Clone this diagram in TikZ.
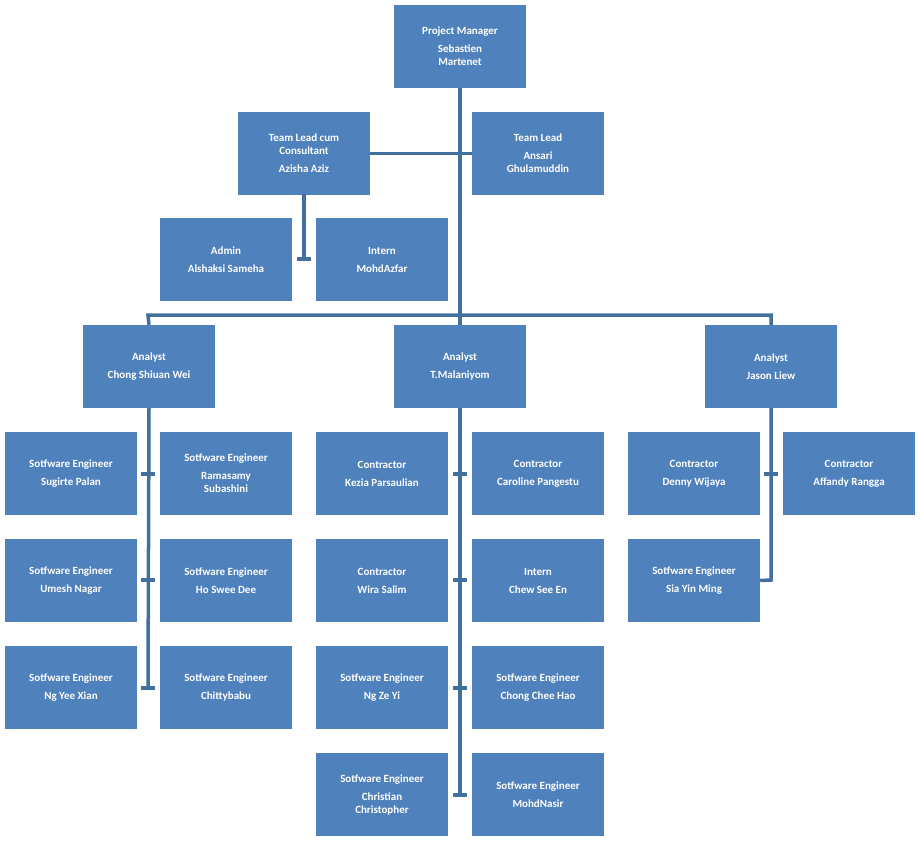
\documentclass[tikz,border=0pt]{standalone}
\usepackage{fontspec}
\setmainfont{Carlito}
\definecolor{boxc}{HTML}{4F81BD}
\definecolor{linec}{HTML}{41709F}
\begin{document}
\begin{tikzpicture}[x=1pt,y=-1pt,
  bx/.style={fill=boxc,draw=none,minimum width=132pt,minimum height=83pt,text=white,font=\bfseries\fontsize{11}{13}\selectfont,align=center,inner sep=0pt},
  ln/.style={draw=linec,line width=3.5pt}]
\useasboundingbox (0,0) rectangle (920,841);
\newcommand{\bxn}[4]{\node[bx] (#1) at (#2+66,#3+41.5) {#4};}
\bxn{pm}{394}{5}{Project Manager\\[5pt]Sebastien\\Martenet}
\bxn{tlc}{238}{112}{Team Lead cum\\Consultant\\[5pt]Azisha Aziz}
\bxn{tla}{472}{112}{Team Lead\\[5pt]Ansari\\Ghulamuddin}
\bxn{adm}{160}{218}{Admin\\[5pt]Alshaksi Sameha}
\bxn{int}{316}{218}{Intern\\[5pt]MohdAzfar}
\bxn{a1}{83}{325}{Analyst\\[5pt]Chong Shiuan Wei}
\bxn{a2}{394}{325}{Analyst\\[5pt]T.Malaniyom}
\bxn{a3}{705}{325}{Analyst\\[5pt]Jason Liew}
\bxn{s1}{5}{432}{Sotfware Engineer\\[5pt]Sugirte Palan}
\bxn{s2}{160}{432}{Sotfware Engineer\\[5pt]Ramasamy\\Subashini}
\bxn{s3}{5}{539}{Sotfware Engineer\\[5pt]Umesh Nagar}
\bxn{s4}{160}{539}{Sotfware Engineer\\[5pt]Ho Swee Dee}
\bxn{s5}{5}{646}{Sotfware Engineer\\[5pt]Ng Yee Xian}
\bxn{s6}{160}{646}{Sotfware Engineer\\[5pt]Chittybabu}
\bxn{c1}{316}{432}{Contractor\\[5pt]Kezia Parsaulian}
\bxn{c2}{472}{432}{Contractor\\[5pt]Caroline Pangestu}
\bxn{c3}{316}{539}{Contractor\\[5pt]Wira Salim}
\bxn{c4}{472}{539}{Intern\\[5pt]Chew See En}
\bxn{c5}{316}{646}{Sotfware Engineer\\[5pt]Ng Ze Yi}
\bxn{c6}{472}{646}{Sotfware Engineer\\[5pt]Chong Chee Hao}
\bxn{c7}{316}{753}{Sotfware Engineer\\[5pt]Christian\\Christopher}
\bxn{c8}{472}{753}{Sotfware Engineer\\[5pt]MohdNasir}
\bxn{d1}{628}{432}{Contractor\\[5pt]Denny Wijaya}
\bxn{d2}{783}{432}{Contractor\\[5pt]Affandy Rangga}
\bxn{d3}{628}{539}{Sotfware Engineer\\[5pt]Sia Yin Ming}
% top structure
\draw[ln] (pm.south) -- (a2.north);
\draw[ln] (tlc.east) -- (tla.west);
\draw[ln] (a1.north) -- (148,315) -- (771,315) -- (a3.north);
\draw[ln] (304,194) -- (304,259);
\draw[ln] (297,259) -- (311,259);
% analyst 1
\draw[ln] (a1.south) -- (148,688);
\foreach \y in {474,580,688} \draw[ln] (141,\y) -- (155,\y);
% analyst 2
\draw[ln] (a2.south) -- (460,795);
\foreach \y in {474,580,688,795} \draw[ln] (453,\y) -- (467,\y);
% analyst 3
\draw[ln] (a3.south) -- (771,580) -- (d3.east);
\draw[ln] (764,474) -- (778,474);
\end{tikzpicture}
\end{document}
